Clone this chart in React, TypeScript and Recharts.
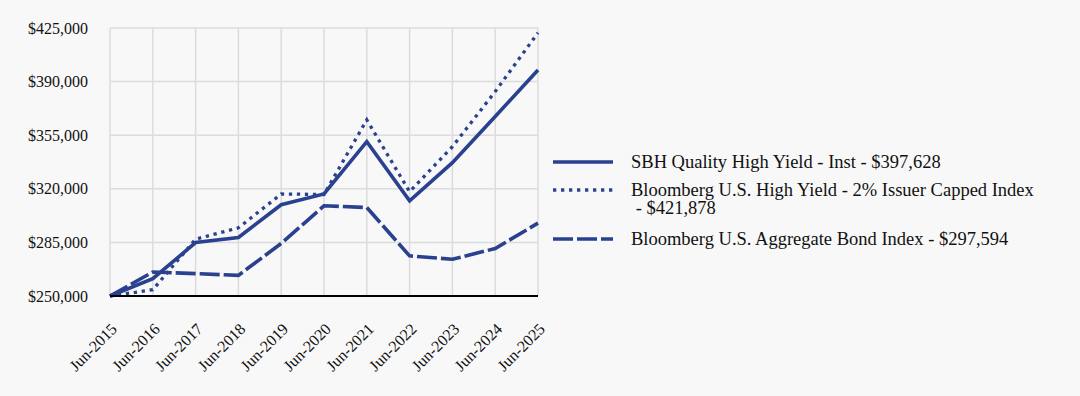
import React from "react";
import { LineChart, Line, XAxis, YAxis, CartesianGrid } from "recharts";

const years = ["Jun-2015","Jun-2016","Jun-2017","Jun-2018","Jun-2019","Jun-2020","Jun-2021","Jun-2022","Jun-2023","Jun-2024","Jun-2025"];
const sbh = [250000, 261300, 284900, 288200, 309600, 316600, 350800, 312200, 337100, 367200, 397628];
const hy = [250000, 254100, 287100, 294500, 316600, 316300, 365000, 318100, 347500, 383500, 421878];
const agg = [250000, 265700, 264600, 263500, 284300, 308900, 307800, 276200, 274000, 281000, 297594];
const yTicks = [250000, 285000, 320000, 355000, 390000, 425000];
const seriesNames = [
  "SBH Quality High Yield - Inst - $397,628",
  "Bloomberg U.S. High Yield - 2% Issuer Capped Index",
  "Bloomberg U.S. Aggregate Bond Index - $297,594",
];
const secondLines = ["", " - $421,878", ""];

const COLOR = "#2a4190";
const FONT = "Liberation Serif";
const dashes = [undefined, "3.3 4.7", "20 4"];
const widths = [3.6, 3.3, 3.6];
const rowTops = [153, 181, 230];

const data = years.map((y, i) => ({ year: y, sbh: sbh[i], hy: hy[i], agg: agg[i] }));
const fmt = (v: number) => "$" + v.toLocaleString("en-US");

export default function App() {
  return (
    <div style={{ position: "absolute", left: 0, top: 0, width: 1080, height: 396, background: "#f8f8f8", fontFamily: FONT }}>
      <LineChart width={1080} height={396} data={data} margin={{ top: 28, right: 542, left: 0, bottom: 0 }} style={{ fontFamily: FONT }}>
        <CartesianGrid stroke="#dcdcdc" strokeWidth={1.5} />
        <XAxis
          dataKey="year"
          height={100}
          interval={0}
          tickLine={false}
          axisLine={{ stroke: "#000", strokeWidth: 2 }}
          tick={{ angle: -45, textAnchor: "end", verticalAnchor: "end", fill: "#111", fontSize: 16, fontFamily: FONT }}
          tickSize={0}
          tickMargin={26}
        />
        <YAxis
          width={110}
          domain={[250000, 425000]}
          ticks={yTicks}
          tickFormatter={fmt}
          axisLine={false}
          tickLine={false}
          tickSize={0}
          tickMargin={22}
          tick={{ fill: "#111", fontSize: 16, fontFamily: FONT }}
        />
        <Line dataKey="sbh" stroke={COLOR} strokeWidth={widths[0]} dot={false} isAnimationActive={false} />
        <Line dataKey="hy" stroke={COLOR} strokeWidth={widths[1]} strokeDasharray={dashes[1]} dot={false} isAnimationActive={false} />
        <Line dataKey="agg" stroke={COLOR} strokeWidth={widths[2]} strokeDasharray={dashes[2]} dot={false} isAnimationActive={false} />
      </LineChart>
      {seriesNames.map((n, i) => (
        <div key={i} style={{ position: "absolute", left: 553, top: rowTops[i], display: "flex", alignItems: "flex-start", fontSize: 18.5, lineHeight: "18px", color: "#111", fontFamily: FONT }}>
          <svg width={60} height={18} style={{ flex: "none", marginRight: 18 }}>
            <line x1={0} x2={60} y1={9} y2={9} stroke={COLOR} strokeWidth={widths[i]} strokeDasharray={dashes[i]} />
          </svg>
          <div>
            <div style={{ whiteSpace: "nowrap" }}>{n}</div>
            {secondLines[i] ? <div style={{ whiteSpace: "pre" }}>{secondLines[i]}</div> : null}
          </div>
        </div>
      ))}
    </div>
  );
}
